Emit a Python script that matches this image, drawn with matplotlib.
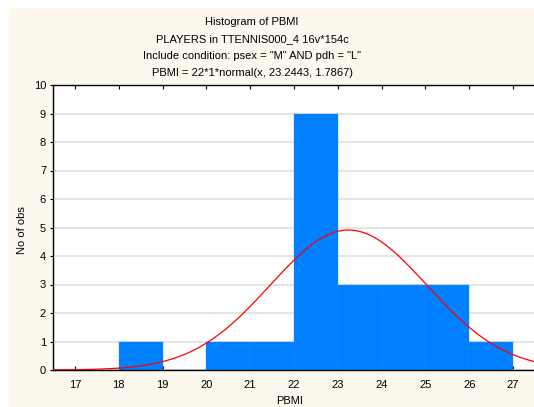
import numpy as np
import matplotlib
matplotlib.use("Agg")
import matplotlib.pyplot as plt
from matplotlib.patches import Rectangle

plt.rcParams['font.family'] = ['Liberation Sans', 'DejaVu Sans']

# histogram of PBMI, bins of width 1
bin_edges = [17, 18, 19, 20, 21, 22, 23, 24, 25, 26, 27]
counts = [0, 1, 0, 1, 1, 9, 3, 3, 3, 1]
n_obs = 22
mu, sigma = 23.2443, 1.7867

title_lines = ["Histogram of PBMI",
               "PLAYERS in TTENNIS000_4 16v*154c",
               'Include condition: psex = "M" AND pdh = "L"',
               "PBMI = 22*1*normal(x, 23.2443, 1.7867)"]

W, H = 534, 407
fig = plt.figure(figsize=(W / 100, H / 100), dpi=100)
fig.patch.set_facecolor("white")
fig.patches.append(Rectangle((9 / W, 0), 1 - 9 / W, 1 - 8 / H,
                             transform=fig.transFigure, facecolor="#fdf8ee",
                             edgecolor="none", zorder=-10))

ax = fig.add_axes([53 / W, 1 - 370 / H, (535 - 53) / W, (370 - 85) / H])
ax.set_facecolor("white")

widths = np.diff(bin_edges)
ax.bar(bin_edges[:-1], counts, width=widths, align="edge",
       color="#0080ff", edgecolor="#1a8dff", linewidth=0.25, zorder=2)

x = np.linspace(16.5, 27.5, 400)
y = n_obs * 1 * np.exp(-0.5 * ((x - mu) / sigma) ** 2) / (sigma * np.sqrt(2 * np.pi))
ax.plot(x, y, color="#ff0000", linewidth=0.9, zorder=3)

ax.set_xlim(16.5, 27.5)
ax.set_ylim(0, 10)
ax.set_xticks(range(17, 28))
ax.set_yticks(range(0, 11))
ax.yaxis.grid(True, color="#e2e2e2", linewidth=1.3, zorder=0)
ax.set_axisbelow(True)

for side in ["left", "bottom", "top"]:
    ax.spines[side].set_linewidth(1.0)
    ax.spines[side].set_color("black")
ax.spines["right"].set_visible(False)

ax.tick_params(axis="x", direction="in", length=3, top=True, labelsize=8,
               pad=7, colors="black", width=0.8)
ax.tick_params(axis="y", direction="out", length=2, labelsize=8, pad=3, width=0.8)

fig.text(290 / W, 1 - 401 / H, "PBMI", ha="center", va="center", fontsize=8)
fig.text(22 / W, 1 - 230 / H, "No of obs", ha="center", va="center",
         rotation=90, fontsize=8)

for i, line in enumerate(title_lines):
    fig.text(252 / W, 1 - (22 + 17 * i) / H, line, ha="center", va="center",
             fontsize=8)

fig.savefig("out.png", dpi=100)
